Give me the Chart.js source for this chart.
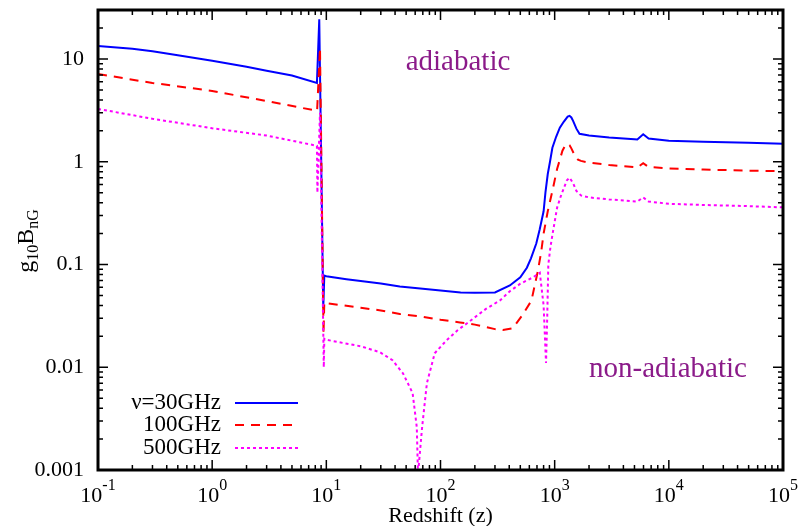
<!DOCTYPE html>
<html>
<head>
<meta charset="utf-8">
<script src="https://cdn.jsdelivr.net/npm/chart.js@4.4.1/dist/chart.umd.min.js"></script>
<style>
  html, body { margin: 0; padding: 0; background: #fff; }
  canvas { display: block; }
</style>
</head>
<body>
<canvas id="chart" width="800" height="526"></canvas>
<script>
// redshift / field values, one pair of arrays per frequency
const redshift30 = [0.1, 0.2, 0.3, 0.5, 1, 2, 3, 5, 8.27, 8.67, 9.4, 9.6, 10, 15, 20, 30, 44, 70, 100, 150, 200, 300, 405, 500, 571, 620, 690, 740, 800, 830, 870, 910, 955, 1030, 1110, 1200, 1300, 1350, 1400, 1450, 1550, 1650, 2000, 3000, 5000, 5300, 5960, 6650, 10000, 20000, 50000, 100000];
const field30 = [13.4, 12.6, 11.9, 10.9, 9.6, 8.4, 7.7, 6.9, 5.85, 24.4, 0.038, 0.078, 0.077, 0.072, 0.069, 0.0655, 0.061, 0.058, 0.056, 0.0535, 0.053, 0.0535, 0.0625, 0.075, 0.093, 0.115, 0.16, 0.22, 0.33, 0.5, 0.76, 1.0, 1.37, 1.75, 2.15, 2.45, 2.75, 2.8, 2.7, 2.5, 2.1, 1.87, 1.8, 1.72, 1.66, 1.65, 1.85, 1.68, 1.6, 1.57, 1.53, 1.5];

const redshift100 = [0.1, 0.3, 1, 3, 8.3, 8.8, 9.45, 9.6, 10, 20, 30, 44, 70, 100, 148, 200, 300, 352, 430, 525, 626, 710, 760, 800, 870, 955, 1050, 1170, 1230, 1290, 1350, 1400, 1500, 1600, 1700, 2000, 3000, 5300, 5960, 6650, 10000, 20000, 50000, 100000];
const field100 = [7.15, 5.85, 4.89, 3.9, 3.13, 12.8, 0.021, 0.043, 0.042, 0.038, 0.0357, 0.033, 0.031, 0.029, 0.0273, 0.026, 0.0235, 0.023, 0.024, 0.0325, 0.0445, 0.085, 0.13, 0.2, 0.33, 0.52, 0.85, 1.28, 1.42, 1.5, 1.45, 1.35, 1.15, 1.05, 1.02, 0.98, 0.93, 0.88, 0.97, 0.89, 0.86, 0.84, 0.82, 0.81];

const redshift500 = [0.1, 0.3, 1, 3, 8.27, 8.35, 8.8, 9.5, 9.6, 10, 20, 29.5, 38, 47, 57, 62, 63.5, 69, 76, 89, 113, 141, 170, 250, 332, 405, 500, 646, 741, 800, 840, 860, 880, 920, 960, 1050, 1130, 1200, 1280, 1350, 1450, 1550, 1700, 2000, 3000, 5300, 5960, 6650, 10000, 20000, 50000, 100000];
const field500 = [3.27, 2.62, 2.12, 1.8, 1.43, 0.5, 3.0, 0.01, 0.019, 0.0185, 0.016, 0.014, 0.0117, 0.0087, 0.0056, 0.0026, 0.0009, 0.0026, 0.007, 0.0137, 0.0183, 0.0229, 0.0267, 0.037, 0.0447, 0.055, 0.065, 0.075, 0.083, 0.04, 0.011, 0.03, 0.1, 0.15, 0.2, 0.357, 0.46, 0.55, 0.66, 0.70, 0.62, 0.52, 0.47, 0.45, 0.43, 0.41, 0.45, 0.41, 0.39, 0.38, 0.37, 0.36];

const seriesLabels = ['ν=30GHz', '100GHz', '500GHz'];
const xTickExponents = [-1, 0, 1, 2, 3, 4, 5];

const FONT = "'Liberation Serif', 'DejaVu Serif', serif";

const toPoints = (xs, ys) => xs.map((x, i) => ({ x: x, y: ys[i] }));

const data = {
    datasets: [
        {
            label: seriesLabels[0],
            data: toPoints(redshift30, field30),
            borderColor: '#0000ff',
            borderWidth: 2,
            order: 3
        },
        {
            label: seriesLabels[1],
            data: toPoints(redshift100, field100),
            borderColor: '#ff0000',
            borderWidth: 2,
            borderDash: [9, 7],
            order: 2
        },
        {
            label: seriesLabels[2],
            data: toPoints(redshift500, field500),
            borderColor: '#ff00ff',
            borderWidth: 2,
            borderDash: [3, 3],
            order: 1
        }
    ]
};

// frame, inward ticks, superscript labels, legend and annotations
const decorations = {
    id: 'decorations',
    afterDraw(chart) {
        const { ctx, chartArea: a } = chart;
        const x = chart.scales.x, y = chart.scales.y;
        ctx.save();

        // ticks
        ctx.strokeStyle = '#000';
        ctx.lineWidth = 1.5;
        ctx.beginPath();
        for (let d = -1; d <= 4; d++) {
            for (let m = 1; m <= 9; m++) {
                const v = m * Math.pow(10, d);
                const px = x.getPixelForValue(v);
                const len = m === 1 ? 10 : 5;
                ctx.moveTo(px, a.bottom); ctx.lineTo(px, a.bottom - len);
                ctx.moveTo(px, a.top); ctx.lineTo(px, a.top + len);
            }
        }
        for (let d = -3; d <= 1; d++) {
            for (let m = 1; m <= 9; m++) {
                const v = m * Math.pow(10, d);
                if (v > 30) break;
                const py = y.getPixelForValue(v);
                const len = m === 1 ? 10 : 5;
                ctx.moveTo(a.left, py); ctx.lineTo(a.left + len, py);
                ctx.moveTo(a.right, py); ctx.lineTo(a.right - len, py);
            }
        }
        ctx.stroke();

        // frame
        ctx.lineWidth = 3;
        ctx.strokeRect(a.left, a.top, a.right - a.left, a.bottom - a.top);

        // x tick labels 10^n
        ctx.fillStyle = '#000';
        ctx.textBaseline = 'alphabetic';
        ctx.textAlign = 'left';
        xTickExponents.forEach(e => {
            const px = x.getPixelForValue(Math.pow(10, e));
            ctx.font = '22px ' + FONT;
            const wb = ctx.measureText('10').width;
            ctx.font = '16px ' + FONT;
            const ws = ctx.measureText(String(e)).width;
            const x0 = px - (wb + ws) / 2;
            ctx.font = '22px ' + FONT;
            ctx.fillText('10', x0, 502);
            ctx.font = '16px ' + FONT;
            ctx.fillText(String(e), x0 + wb, 490);
        });

        // y title g_10 B_nG
        ctx.save();
        ctx.translate(33, 241);
        ctx.rotate(-Math.PI / 2);
        const parts = [['g', 24, 0], ['10', 16, 5], ['B', 24, 0], ['nG', 16, 5]];
        let total = 0;
        parts.forEach(p => { ctx.font = p[1] + 'px ' + FONT; total += ctx.measureText(p[0]).width; });
        let cx = -total / 2;
        parts.forEach(p => {
            ctx.font = p[1] + 'px ' + FONT;
            ctx.fillText(p[0], cx, p[2]);
            cx += ctx.measureText(p[0]).width;
        });
        ctx.restore();

        // legend
        ctx.font = '23px ' + FONT;
        ctx.textAlign = 'right';
        ctx.textBaseline = 'middle';
        const rows = [403, 425, 448];
        chart.data.datasets.forEach((ds, i) => {
            ctx.fillStyle = '#000';
            ctx.fillText(ds.label, 221, rows[i]);
            ctx.strokeStyle = ds.borderColor;
            ctx.lineWidth = ds.borderWidth;
            ctx.setLineDash(ds.borderDash || []);
            ctx.beginPath();
            ctx.moveTo(235, rows[i]);
            ctx.lineTo(298, rows[i]);
            ctx.stroke();
        });
        ctx.setLineDash([]);

        // annotations
        ctx.fillStyle = '#8b1a89';
        ctx.font = '29px ' + FONT;
        ctx.textAlign = 'center';
        ctx.textBaseline = 'alphabetic';
        ctx.fillText('adiabatic', 458, 70);
        ctx.fillText('non-adiabatic', 668, 377);

        ctx.restore();
    }
};

const config = {
    type: 'scatter',
    data: data,
    options: {
        responsive: false,
        animation: false,
        devicePixelRatio: 1,
        showLine: true,
        elements: {
            point: { radius: 0, hoverRadius: 0 },
            line: { tension: 0 }
        },
        layout: {
            padding: { top: 10, right: 17, left: 0, bottom: 0 }
        },
        plugins: {
            legend: { display: false },
            tooltip: { enabled: false }
        },
        scales: {
            x: {
                type: 'logarithmic',
                min: 0.1,
                max: 100000,
                grid: { display: false, drawTicks: false },
                border: { display: false },
                ticks: { display: false },
                title: {
                    display: true,
                    text: 'Redshift (z)',
                    color: '#000',
                    font: { family: FONT, size: 22 },
                    padding: { top: 0, bottom: -3 }
                },
                afterFit: (s) => { s.height = 56; s.paddingLeft = 0; s.paddingRight = 0; }
            },
            y: {
                type: 'logarithmic',
                min: 0.001,
                max: 30,
                grid: { display: false, drawTicks: false },
                border: { display: false },
                ticks: {
                    autoSkip: false,
                    padding: 14,
                    color: '#000',
                    font: { family: FONT, size: 22 },
                    callback: (v) => {
                        const e = Math.log10(v);
                        return Math.abs(e - Math.round(e)) < 1e-9 ? String(+v.toPrecision(3)) : '';
                    }
                },
                afterFit: (s) => { s.width = 98; s.paddingTop = 0; s.paddingBottom = 0; }
            }
        }
    },
    plugins: [decorations]
};

window.fieldChart = new Chart(document.getElementById('chart').getContext('2d'), config);
</script>
</body>
</html>
